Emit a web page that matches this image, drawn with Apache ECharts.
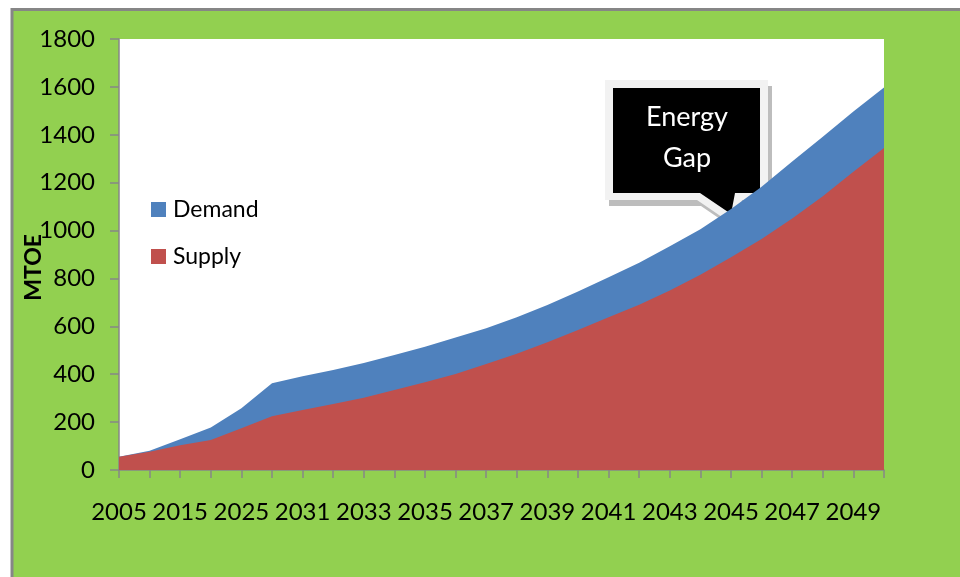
<!DOCTYPE html>
<html>
<head>
<meta charset="utf-8">
<script src="https://cdn.jsdelivr.net/npm/echarts@6/dist/echarts.min.js"></script>
<style>
html,body{margin:0;padding:0;background:#fff;}
#chart{width:960px;height:577px;}
</style>
</head>
<body>
<div id="chart"></div>
<script>
const years = ['2005','2010','2015','2020','2025','2030','2031','2032','2033','2034','2035','2036','2037','2038','2039','2040','2041','2042','2043','2044','2045','2046','2047','2048','2049','2050'];
const demand = [55, 80, 128, 178, 258, 362, 392, 418, 447, 480, 515, 553, 592, 638, 689, 745, 805, 866, 934, 1005, 1090, 1183, 1288, 1392, 1497, 1597];
const supply = [55, 76, 103, 125, 174, 225, 251, 276, 302, 334, 366, 401, 443, 485, 534, 585, 638, 690, 750, 815, 888, 965, 1050, 1143, 1246, 1345];
const yTicks = { min: 0, max: 1800, step: 200 };
const seriesNames = ['Demand', 'Supply'];
const yTitle = 'MTOE';
const calloutText = 'Energy\nGap';

const FONT = 'Lato, "Open Sans", "DejaVu Sans", sans-serif';
const chart = echarts.init(document.getElementById('chart'), null, {renderer: 'canvas'});

const calloutOuter = [[605,80],[768,80],[768,200],[742,200],[738,228],[697,200],[605,200]];
const calloutInner = [[613,88],[760,88],[760,193],[735,193],[731,214],[700,193],[613,193]];

chart.setOption({
  backgroundColor: '#ffffff',
  animation: false,
  graphic: [
    { type: 'rect', z: -10, silent: true,
      shape: { x: 12, y: 9.5, width: 1000, height: 600 },
      style: { fill: '#92D050', stroke: '#868686', lineWidth: 3 } },
    { type: 'text', z: 10, left: 22, top: 234, rotation: Math.PI / 2,
      style: { text: yTitle, font: 'bold 23px ' + FONT, fill: '#000' } },
    { type: 'group', z: 100, children: [
      { type: 'polygon', shape: { points: calloutOuter.map(p => [p[0] + 4, p[1] + 6]) },
        style: { fill: '#bdbdbd' } },
      { type: 'polygon', shape: { points: calloutOuter },
        style: { fill: '#f2f2f2' } },
      { type: 'polygon', shape: { points: calloutInner },
        style: { fill: '#000000' } },
      { type: 'text', x: 687, y: 138,
        style: { text: calloutText, font: '27px ' + FONT, fill: '#ffffff',
                 align: 'center', verticalAlign: 'middle', lineHeight: 41 } }
    ]}
  ],
  grid: { left: 119, right: 76, top: 39, bottom: 107, show: true,
          backgroundColor: '#ffffff', borderWidth: 0 },
  legend: {
    data: seriesNames, orient: 'vertical', left: 146, top: 193,
    itemWidth: 15, itemHeight: 15, itemGap: 24, icon: 'rect',
    textStyle: { fontSize: 23, fontFamily: FONT, color: '#000', padding: [0,0,0,2] }
  },
  xAxis: {
    type: 'category', data: years, boundaryGap: false,
    axisLine: { lineStyle: { color: '#868686', width: 1.5 } },
    axisTick: { show: true, interval: 0, length: 8, lineStyle: { color: '#868686', width: 1.5 } },
    axisLabel: { interval: 1, fontSize: 24, fontFamily: FONT, color: '#000', margin: 30 },
    splitLine: { show: false }
  },
  yAxis: {
    type: 'value', min: yTicks.min, max: yTicks.max, interval: yTicks.step,
    axisLine: { show: true, lineStyle: { color: '#868686', width: 1.5 } },
    axisTick: { show: true, length: 9, lineStyle: { color: '#868686', width: 1.5 } },
    axisLabel: { fontSize: 24, fontFamily: FONT, color: '#000', margin: 24,
                 formatter: v => String(v) },
    splitLine: { show: false }
  },
  series: [
    { name: seriesNames[0], type: 'line', data: demand, symbol: 'none',
      itemStyle: { color: '#4F81BD' }, lineStyle: { width: 0 },
      areaStyle: { color: '#4F81BD', opacity: 1 }, z: 2 },
    { name: seriesNames[1], type: 'line', data: supply, symbol: 'none',
      itemStyle: { color: '#C0504D' }, lineStyle: { width: 0 },
      areaStyle: { color: '#C0504D', opacity: 1 }, z: 3 }
  ]
});
</script>
</body>
</html>
